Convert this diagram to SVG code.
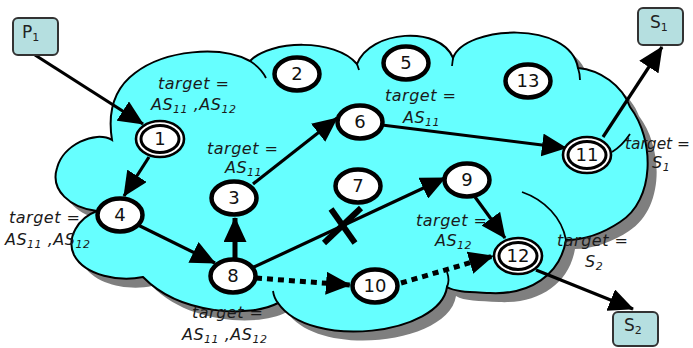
<svg xmlns="http://www.w3.org/2000/svg" width="693" height="348" viewBox="0 0 693 348">
<style>
.cl{fill:#66ffff;stroke:#000;stroke-width:2}
.sh{fill:#7f7f7f}
.arc{fill:none;stroke:#000;stroke-width:1.8}
.e{fill:none;stroke:#000;stroke-width:3.2;marker-end:url(#ah)}
.d{fill:none;stroke:#000;stroke-width:5;stroke-dasharray:6 5;marker-end:url(#ah)}
.n{fill:#fff;stroke:#000;stroke-width:4.5}
.o{fill:#fff;stroke:#000;stroke-width:2.6}
.i{fill:#fff;stroke:#000;stroke-width:3}
.lb{font-family:"DejaVu Sans","Liberation Sans",sans-serif;font-size:18px;fill:#111;text-anchor:middle}
.t{font-family:"DejaVu Sans","Liberation Sans",sans-serif;font-style:italic;font-size:16px;fill:#1a1a1a;letter-spacing:0.5px}
.sub{font-size:11px}
.bx{fill:#b5dfe0;stroke:#333;stroke-width:2}
.bl{font-family:"DejaVu Sans","Liberation Sans",sans-serif;font-size:17px;fill:#222}
</style>
<defs>
<marker id="ah" markerUnits="userSpaceOnUse" markerWidth="25" markerHeight="23" refX="24" refY="11.5" orient="auto">
<path d="M0,0 L25,11.5 L0,23 z" fill="#000"/>
</marker>
<path id="cloudp" d="M143,277 C120,282 85,276 74,255 C66,238 78,218 97,211 C70,208 50,190 57,168 C63,145 95,130 112,140 C108,115 112,90 135,73 C165,50 220,45 250,61 C270,40 335,38 357,64 C370,30 440,25 453,58 C465,25 570,20 578,68 C600,70 622,85 630,107 C655,140 655,200 620,222 C605,232 585,240 566,240 C560,275 530,295 490,293 C470,292 455,292 447,287 C440,335 310,350 278,303 C250,318 180,315 143,277 Z"/>
</defs>
<g id="cloud">
<use href="#cloudp" class="sh" transform="translate(9,9)"/>
<use href="#cloudp" class="cl"/>
<path class="arc" d="M250,61 Q261,68 266,78"/>
<path class="arc" d="M357,64 L359,70"/>
<path class="arc" d="M453,58 L452,66"/>
<path class="arc" d="M578,68 Q580,74 580,80"/>
<path class="arc" d="M522,192 C545,200 562,218 566,240"/>
<path class="arc" d="M612,152 Q622,146 630,134"/>
<path class="arc" d="M447,287 Q450,280 447,272"/>
<path class="arc" d="M278,303 Q274,298 273,291"/>
</g>
<g id="connectors">
<line class="e" x1="35" y1="55" x2="143" y2="124"/>
<line class="e" x1="149" y1="157" x2="124" y2="196"/>
<line class="e" x1="138" y1="225" x2="215" y2="263"/>
<line class="e" x1="235" y1="258" x2="235" y2="218" style="stroke-width:5"/>
<line class="e" x1="253" y1="184" x2="337" y2="118"/>
<line class="e" x1="382" y1="125" x2="566" y2="148"/>
<line class="e" x1="603" y1="137" x2="662" y2="47"/>
<line class="e" x1="252" y1="268" x2="445" y2="178"/>
<line class="e" x1="475" y1="197" x2="505" y2="238"/>
<line class="e" x1="536" y1="270" x2="633" y2="309"/>
<line class="d" x1="256" y1="278" x2="350" y2="285"/>
<line class="d" x1="401" y1="283" x2="493" y2="256"/>
<g id="cross" stroke="#000" stroke-width="6">
<line x1="331" y1="209" x2="355" y2="243"/>
<line x1="361" y1="208" x2="324" y2="243"/>
</g>
</g>
<g id="P1"><rect class="bx" x="13" y="18" width="45" height="37" rx="5"/><text class="bl" x="22" y="38">P<tspan class="sub" dy="3">1</tspan></text></g>
<g id="S1"><rect class="bx" x="638" y="8" width="45" height="37" rx="5"/><text class="bl" x="650" y="28">S<tspan class="sub" dy="3">1</tspan></text></g>
<g id="S2"><rect class="bx" x="613" y="312" width="45" height="34" rx="5"/><text class="bl" x="624" y="331">S<tspan class="sub" dy="3">2</tspan></text></g>
<g id="n1"><ellipse class="o" cx="160" cy="139" rx="24" ry="18"/><ellipse class="i" cx="160" cy="139" rx="19" ry="13.5"/><text class="lb" x="160" y="145">1</text></g>
<g id="n2"><ellipse class="n" cx="297" cy="74" rx="22.5" ry="16.5"/><text class="lb" x="297" y="80">2</text></g>
<g id="n5"><ellipse class="n" cx="406" cy="63" rx="22.5" ry="16.5"/><text class="lb" x="406" y="69">5</text></g>
<g id="n13"><ellipse class="n" cx="528" cy="81" rx="22.5" ry="16.5"/><text class="lb" x="528" y="87">13</text></g>
<g id="n6"><ellipse class="n" cx="360" cy="122" rx="22.5" ry="16.5"/><text class="lb" x="360" y="128">6</text></g>
<g id="n11"><ellipse class="o" cx="587" cy="155" rx="24" ry="18"/><ellipse class="i" cx="587" cy="155" rx="19" ry="13.5"/><text class="lb" x="587" y="161">11</text></g>
<g id="n3"><ellipse class="n" cx="234" cy="198" rx="22.5" ry="16.5"/><text class="lb" x="234" y="204">3</text></g>
<g id="n7"><ellipse class="n" cx="358" cy="186" rx="22.5" ry="16.5"/><text class="lb" x="358" y="192">7</text></g>
<g id="n9"><ellipse class="n" cx="467" cy="180" rx="22.5" ry="16.5"/><text class="lb" x="467" y="186">9</text></g>
<g id="n4"><ellipse class="n" cx="120" cy="215" rx="22.5" ry="16.5"/><text class="lb" x="120" y="221">4</text></g>
<g id="n8"><ellipse class="n" cx="233" cy="276" rx="22.5" ry="16.5"/><text class="lb" x="233" y="282">8</text></g>
<g id="n10"><ellipse class="n" cx="375" cy="286" rx="22.5" ry="16.5"/><text class="lb" x="375" y="292">10</text></g>
<g id="n12"><ellipse class="o" cx="518" cy="256" rx="24" ry="18"/><ellipse class="i" cx="518" cy="256" rx="19" ry="13.5"/><text class="lb" x="518" y="262">12</text></g>
<g id="labels">
<text class="t" x="158" y="89">target =</text>
<text class="t" x="151" y="110">AS<tspan class="sub" dy="3">11</tspan><tspan dy="-3"> ,AS</tspan><tspan class="sub" dy="3">12</tspan></text>
<text class="t" x="207" y="154">target =</text>
<text class="t" x="225" y="173">AS<tspan class="sub" dy="3">11</tspan></text>
<text class="t" x="385" y="101">target =</text>
<text class="t" x="403" y="123">AS<tspan class="sub" dy="3">11</tspan></text>
<text class="t" x="625" y="149" textLength="65" lengthAdjust="spacingAndGlyphs" style="letter-spacing:0">target =</text>
<text class="t" x="652" y="168">S<tspan class="sub" dy="3">1</tspan></text>
<text class="t" x="9" y="223">target =</text>
<text class="t" x="5" y="245">AS<tspan class="sub" dy="3">11</tspan><tspan dy="-3"> ,AS</tspan><tspan class="sub" dy="3">12</tspan></text>
<text class="t" x="192" y="318">target =</text>
<text class="t" x="182" y="340">AS<tspan class="sub" dy="3">11</tspan><tspan dy="-3"> ,AS</tspan><tspan class="sub" dy="3">12</tspan></text>
<text class="t" x="416" y="226">target =</text>
<text class="t" x="435" y="246">AS<tspan class="sub" dy="3">12</tspan></text>
<text class="t" x="557" y="246">target =</text>
<text class="t" x="585" y="267">S<tspan class="sub" dy="3">2</tspan></text>
</g>
</svg>
